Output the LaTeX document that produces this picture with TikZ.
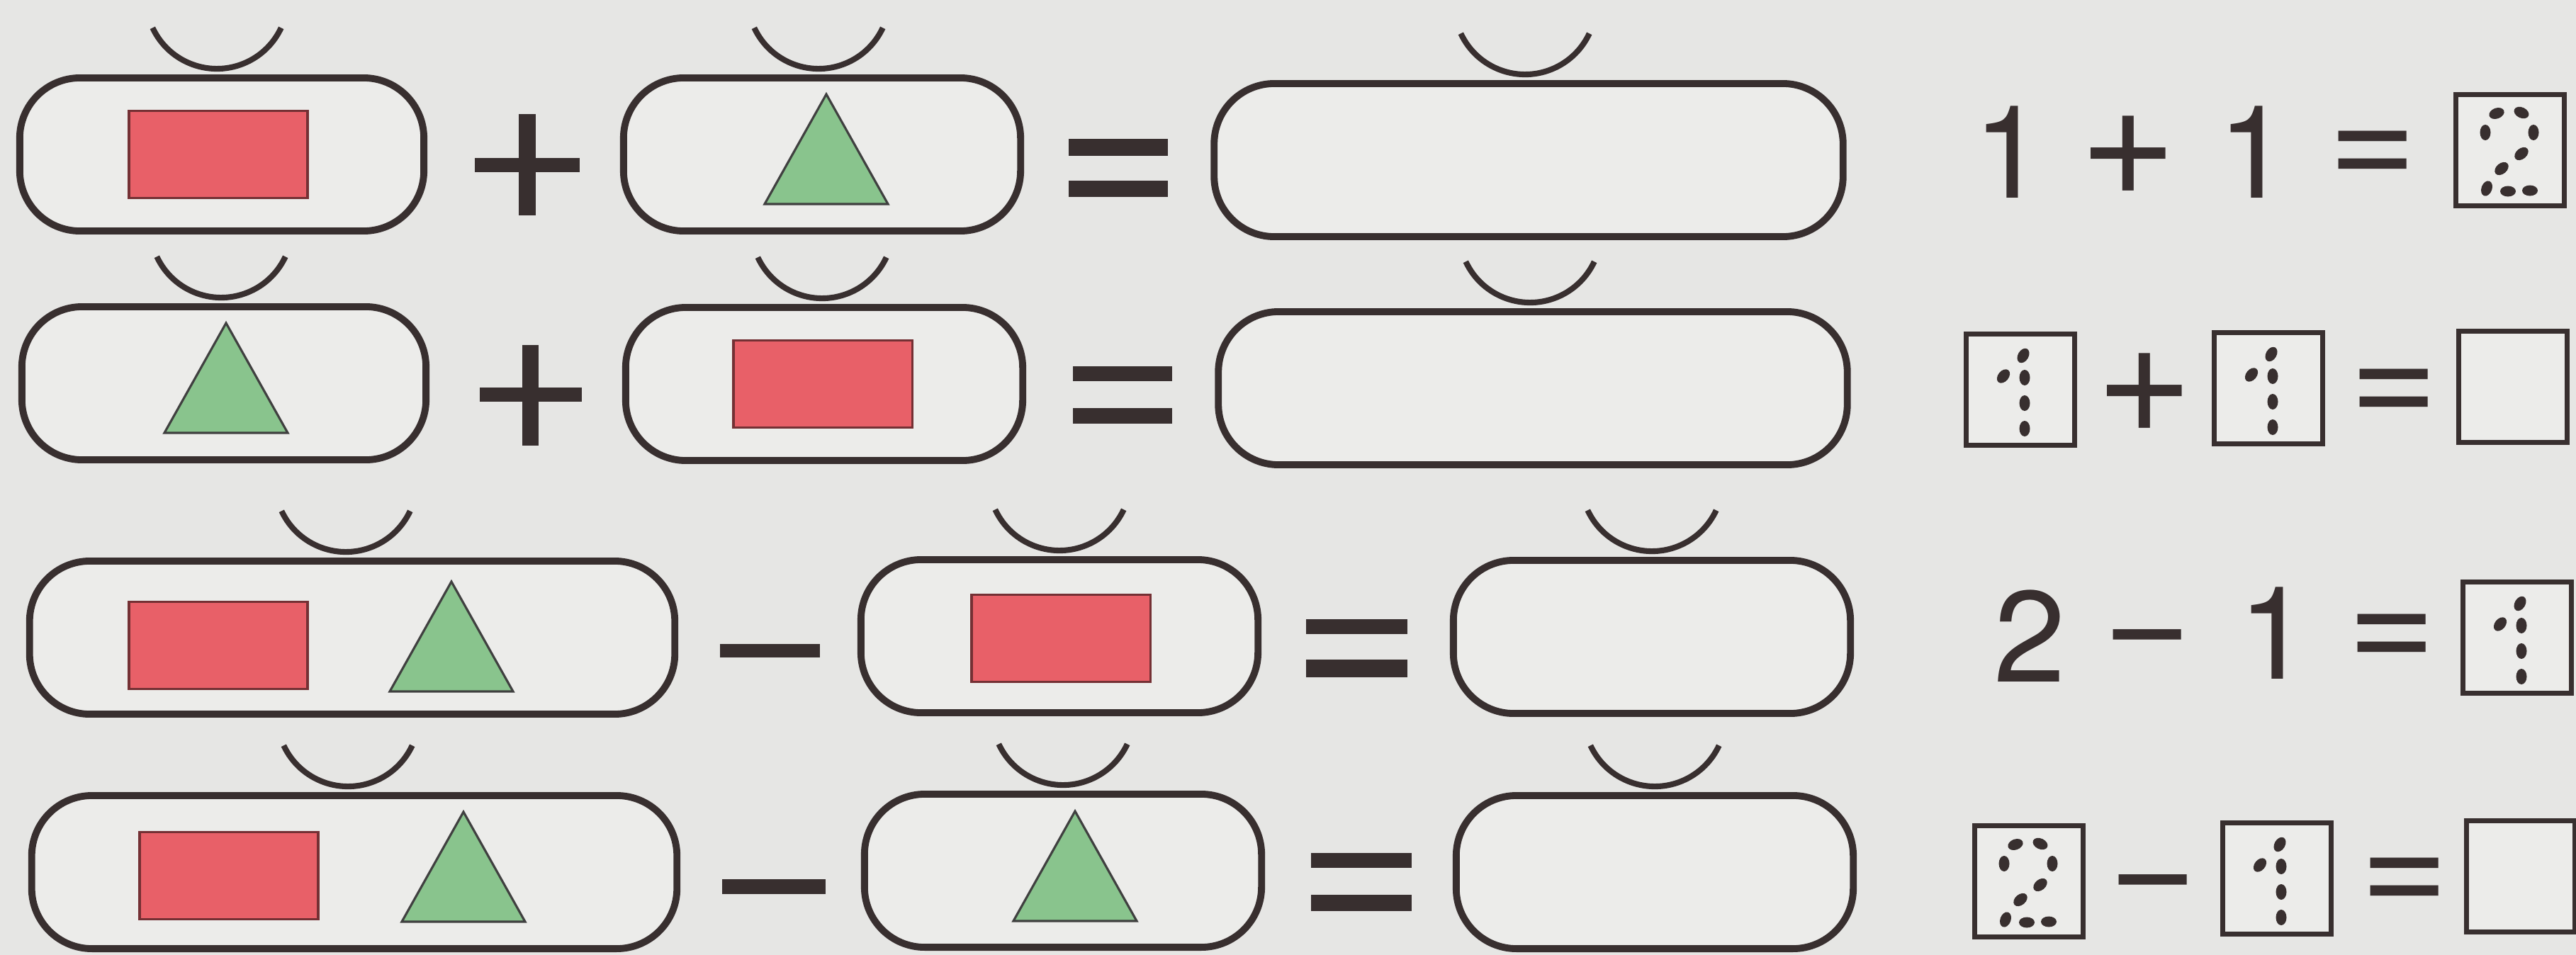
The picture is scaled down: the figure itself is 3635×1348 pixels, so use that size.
\documentclass[tikz,border=0pt]{standalone}
\usepackage{fontspec}
\usepackage{tikz}
\newfontfamily\worksheetfont{TeX Gyre Heros}
\definecolor{paper}{RGB}{230,230,228}
\definecolor{paperlight}{RGB}{236,236,234}
\definecolor{ink}{RGB}{56,47,47}
\definecolor{shapered}{RGB}{232,96,104}
\definecolor{shapegreen}{RGB}{137,196,141}

\begin{document}
\begin{tikzpicture}[
    x=0.01cm, y=-0.01cm,
    oval/.style={draw=ink, line width=2.8pt, rounded corners=0.85cm, fill=paperlight,
                 minimum width=5.6cm, minimum height=2.16cm, inner sep=0pt},
    wideoval/.style={oval, minimum width=9.1cm},
    midoval/.style={oval, minimum width=8.87cm},
    cupline/.style={draw=ink, line width=2.3pt},
    redrect/.style={draw=shapered!50!black, line width=0.9pt, fill=shapered,
                    minimum width=2.52cm, minimum height=1.23cm, inner sep=0pt},
    tri/.style={draw=black!75, line width=0.9pt, fill=shapegreen},
    bar/.style={fill=ink},
    numbox/.style={draw=ink, line width=2pt, fill=paperlight,
                   minimum width=1.53cm, minimum height=1.56cm, inner sep=0pt},
    digit/.style={anchor=base, inner sep=0pt, text=ink,
                  font=\worksheetfont\fontsize{52}{52}\selectfont},
    sign/.style={digit, font=\worksheetfont\fontsize{61}{61}\selectfont},
    plussign/.style={digit, font=\worksheetfont\fontsize{67}{67}\selectfont},
    greentri/.pic={\path[tri] (-87,0) -- (87,0) -- (0,-155) -- cycle;},
    dotone/.pic={\foreach \dx/\dy/\r in {4/-48/60, -24/-19/50, 6/-17/90, 6/19/90, 6/55/90}
      \fill[ink, shift={(\dx,\dy)}, rotate=\r] (0,0) ellipse [x radius=0.11cm, y radius=0.075cm];},
    dottwo/.pic={\foreach \dx/\dy/\r in {-19/-52/20, 16/-53/-25, -35/-25/90, 33/-25/90,
      16/5/40, -12/26/40, -33/54/70, -3/58/0, 28/57/0}
      \fill[ink, shift={(\dx,\dy)}, rotate=\r] (0,0) ellipse [x radius=0.11cm, y radius=0.075cm];},
  ]
  \path[use as bounding box, fill=paper] (0,0) rectangle (3635,1348);

  \node[oval, minimum width=5.7cm] (a1) at (313,218) {};
  \node[oval] (b1) at (1160,218) {};
  \node[midoval] (c1) at (2157,226) {};
  \node[oval, minimum width=5.7cm] (a2) at (316,541) {};
  \node[oval] (b2) at (1163,542) {};
  \node[midoval] (c2) at (2163,548) {};
  \node[wideoval] (a3) at (497,900) {};
  \node[oval] (b3) at (1495,898) {};
  \node[oval] (c3) at (2331,899) {};
  \node[wideoval] (a4) at (500,1231) {};
  \node[oval] (b4) at (1500,1229) {};
  \node[oval] (c4) at (2335,1231) {};
  \foreach \n/\dx in {a1/-7, b1/-5, c1/-5, a2/-4, b2/-3, c2/-4, a3/-9, b3/0, c3/0, a4/-9, b4/0, c4/0}
    \draw[cupline] ([xshift=\dx*0.01cm-0.906cm, yshift=0.657cm]\n.north)
      arc[start angle=205, end angle=335, radius=1cm];

  \node[redrect] (red1) at (308,218) {};
  \node[redrect] (red2) at (1161,542) {};
  \node[redrect] (red3) at (308,911) {};
  \node[redrect] (red4) at (1497,901) {};
  \node[redrect] (red5) at (323,1236) {};
  \pic at (1166,288) {greentri};
  \pic at (319,611) {greentri};
  \pic at (637,976) {greentri};
  \pic at (654,1301) {greentri};
  \pic at (1517,1300) {greentri};

  \fill[bar] (670,223) rectangle (818,243); \fill[bar] (732,161) rectangle (756,304);
  \fill[bar] (677,547) rectangle (821,567); \fill[bar] (737,487) rectangle (760,629);
  \fill[bar] (1016,909) rectangle (1157,928);
  \fill[bar] (1019,1241) rectangle (1165,1262);
  \fill[bar] (1508,196) rectangle (1648,220); \fill[bar] (1508,255) rectangle (1648,278);
  \fill[bar] (1514,517) rectangle (1654,538); \fill[bar] (1514,576) rectangle (1654,598);
  \fill[bar] (1843,874) rectangle (1986,895); \fill[bar] (1843,931) rectangle (1986,956);
  \fill[bar] (1850,1204) rectangle (1992,1225); \fill[bar] (1850,1263) rectangle (1992,1286);

  \node[digit] (one11) at (2835,279) {1};
  \node[plussign] (plus1) at (3003,275) {+};
  \node[digit] (one12) at (3180,279) {1};
  \node[sign] (eq1) at (3348,265) {=};
  \node[numbox] (ans1) at (3542,212) {};
  \pic at (ans1) {dottwo};

  \node[numbox] (one21) at (2851,550) {};
  \pic at (one21) {dotone};
  \node[plussign] (plus2) at (3026,610) {+};
  \node[numbox] (one22) at (3201,548) {};
  \pic at (one22) {dotone};
  \node[sign] (eq2) at (3378,601) {=};
  \node[numbox] (ans2) at (3546,546) {};

  \node[digit] (two31) at (2864,962) {2};
  \node[sign] (minus3) at (3030,949) {−};
  \node[digit] (one32) at (3209,958) {1};
  \node[sign] (eq3) at (3375,947) {=};
  \node[numbox] (ans3) at (3552,900) {};
  \pic at (ans3) {dotone};

  \node[numbox] (two41) at (2863,1244) {};
  \pic at (two41) {dottwo};
  \node[sign] (minus4) at (3038,1295) {−};
  \node[numbox] (one42) at (3213,1240) {};
  \pic at (one42) {dotone};
  \node[sign] (eq4) at (3393,1291) {=};
  \node[numbox] (ans4) at (3557,1237) {};
\end{tikzpicture}
\end{document}
